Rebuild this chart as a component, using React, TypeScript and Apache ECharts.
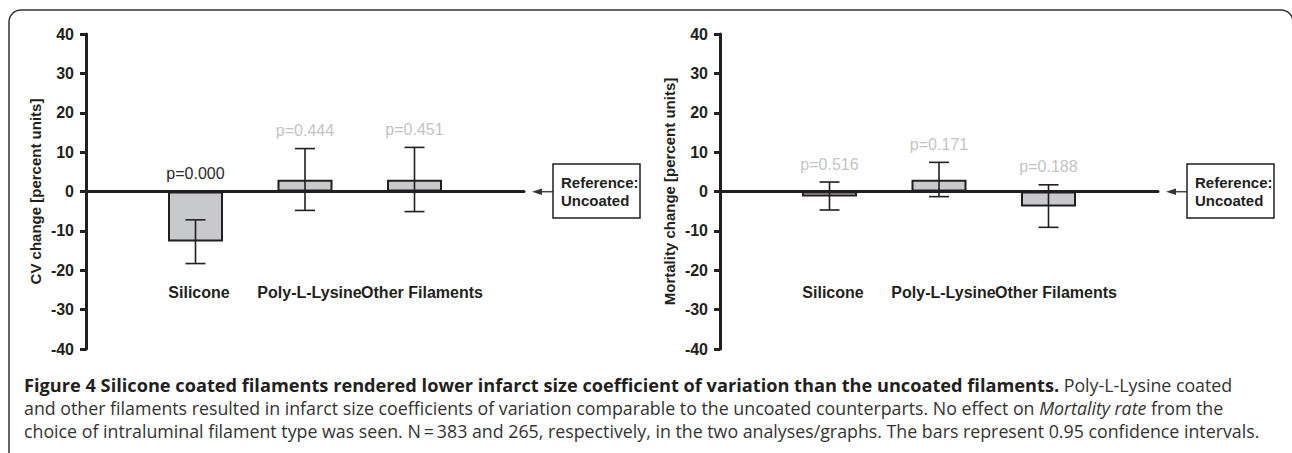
import React, { useEffect, useRef } from "react";
import * as echarts from "echarts";

// ---- data ----
const categories = ["", "Silicone", "Poly-L-Lysine", "Other Filaments", ""];
const yTicks = { min: -40, max: 40, interval: 10 };

const cvMeans = ["-", -12.7, 3.0, 3.0, "-"];
const cvLow = [-18.3, -4.8, -5.1];
const cvHigh = [-7.2, 10.9, 11.2];
const cvP = ["p=0.000", "p=0.444", "p=0.451"];
const cvSignificant = [true, false, false];

const mortMeans = ["-", -1.3, 3.0, -3.8, "-"];
const mortLow = [-4.7, -1.3, -9.1];
const mortHigh = [2.4, 7.4, 1.7];
const mortP = ["p=0.516", "p=0.171", "p=0.188"];
const mortSignificant = [false, false, false];

const yNames = ["CV change [percent units]", "Mortality change [percent units]"];
const referenceText = "Reference:\nUncoated";

const captionLine1Bold =
  "Figure 4 Silicone coated filaments rendered lower infarct size coefficient of variation than the uncoated filaments.";
const captionLine1Rest = " Poly-L-Lysine coated";
const captionLine2a =
  "and other filaments resulted in infarct size coefficients of variation comparable to the uncoated counterparts. No effect on ";
const captionLine2Italic = "Mortality rate";
const captionLine2b = " from the";
const captionLine3 =
  "choice of intraluminal filament type was seen. N\u2009=\u2009383 and 265, respectively, in the two analyses/graphs. The bars represent 0.95 confidence intervals.";

// ---- style ----
const FONT = "'Liberation Sans', Arial, Helvetica, sans-serif";
const CAP_FONT = "'Open Sans', 'Noto Sans', sans-serif";
const DARK = "#231f20";
const GRID_TOP = 34;
const GRID_H = 315;
const GRID_W = 438;
const GRID_LEFTS = [86, 720];
const LABEL_PAD = [0, 7, 9, 15, 0];

function buildPanel(
  idx: number,
  means: any[],
  lows: number[],
  highs: number[],
  ps: string[],
  sig: boolean[]
) {
  const errData = lows.map((lo, i) => [i + 1, lo, highs[i]]);
  const pData = ps.map((p, i) => [i + 1, Math.max(highs[i], 0), p, sig[i] ? 1 : 0]);
  return [
    {
      type: "bar",
      xAxisIndex: idx,
      yAxisIndex: idx,
      data: means,
      barWidth: 55,
      itemStyle: { color: "#c8c9cb", borderColor: DARK, borderWidth: 2 },
      silent: true,
    },
    {
      type: "custom",
      xAxisIndex: idx,
      yAxisIndex: idx,
      data: errData,
      encode: { x: 0, y: [1, 2] },
      z: 5,
      renderItem: (params: any, api: any) => {
        const x = api.value(0);
        const lo = api.coord([x, api.value(1)]);
        const hi = api.coord([x, api.value(2)]);
        const cap = 10;
        const st = { stroke: DARK, lineWidth: 1.6 };
        return {
          type: "group",
          children: [
            { type: "line", shape: { x1: lo[0], y1: lo[1], x2: hi[0], y2: hi[1] }, style: st },
            { type: "line", shape: { x1: lo[0] - cap, y1: lo[1], x2: lo[0] + cap, y2: lo[1] }, style: st },
            { type: "line", shape: { x1: hi[0] - cap, y1: hi[1], x2: hi[0] + cap, y2: hi[1] }, style: st },
          ],
        };
      },
    },
    {
      type: "custom",
      xAxisIndex: idx,
      yAxisIndex: idx,
      data: pData,
      encode: { x: 0, y: 1 },
      z: 6,
      renderItem: (params: any, api: any) => {
        const i = params.dataIndex;
        const pt = api.coord([pData[i][0], pData[i][1]]);
        return {
          type: "text",
          x: pt[0],
          y: pt[1] - 18,
          style: {
            text: pData[i][2],
            fill: pData[i][3] ? "#2a2a2a" : "#c4c4c4",
            font: `16px ${FONT}`,
            align: "center",
            verticalAlign: "middle",
            textAlign: "center",
            textVerticalAlign: "middle",
          },
        };
      },
    },
  ];
}

export default function App() {
  const ref = useRef<HTMLDivElement>(null);
  useEffect(() => {
    if (!ref.current) return;
    const chart = echarts.init(ref.current, undefined, { renderer: "svg" });

    const labelRich: any = {};
    LABEL_PAD.forEach((p, i) => {
      labelRich["c" + i] = {
        fontFamily: FONT,
        fontWeight: "bold",
        fontSize: 16,
        color: DARK,
        padding: [0, 0, 0, p],
      };
    });

    const grids = GRID_LEFTS.map((l) => ({ left: l, top: GRID_TOP, width: GRID_W, height: GRID_H }));
    const xAxes = GRID_LEFTS.map((_, i) => ({
      type: "category",
      gridIndex: i,
      data: categories,
      boundaryGap: false,
      axisLine: { onZero: true, lineStyle: { color: DARK, width: 3 } },
      axisTick: { show: false },
      splitLine: { show: false },
      axisLabel: {
        interval: 0,
        margin: -65,
        color: DARK,
        fontFamily: FONT,
        fontWeight: "bold",
        fontSize: 16,
        formatter: (v: string, idx: number) => (v ? `{c${idx}|${v}}` : ""),
        rich: labelRich,
      },
    }));
    const yAxes = GRID_LEFTS.map((_, i) => ({
      type: "value",
      gridIndex: i,
      min: yTicks.min,
      max: yTicks.max,
      interval: yTicks.interval,
      name: yNames[i],
      nameLocation: "middle",
      nameGap: 43,
      nameTextStyle: { color: DARK, fontFamily: FONT, fontWeight: "bold", fontSize: 15 },
      axisLine: { show: true, onZero: false, lineStyle: { color: DARK, width: 3 } },
      axisTick: { show: true, inside: false, length: 6, lineStyle: { color: DARK, width: 3 } },
      splitLine: { show: false },
      axisLabel: { margin: 12, color: DARK, fontFamily: FONT, fontWeight: "bold", fontSize: 16 },
    }));

    const refBoxes = [
      { boxX: 553, arrowTip: 532 },
      { boxX: 1187, arrowTip: 1166 },
    ];
    const graphics: any[] = [
      {
        type: "rect",
        shape: { x: 9, y: 10, width: 1284, height: 520, r: 12 },
        style: { fill: "none", stroke: "#333", lineWidth: 1.5 },
        silent: true,
      },
    ];
    refBoxes.forEach((b) => {
      const y0 = 191.7;
      graphics.push(
        {
          type: "line",
          shape: { x1: b.arrowTip + 6, y1: y0, x2: b.boxX, y2: y0 },
          style: { stroke: "#444", lineWidth: 1.5 },
        },
        {
          type: "polygon",
          shape: { points: [[b.arrowTip, y0], [b.arrowTip + 10, y0 - 3.2], [b.arrowTip + 10, y0 + 3.2]] },
          style: { fill: "#333" },
        },
        {
          type: "rect",
          shape: { x: b.boxX, y: 164, width: 87, height: 54 },
          style: { fill: "#fff", stroke: DARK, lineWidth: 1.5 },
        },
        {
          type: "text",
          x: b.boxX + 8,
          y: 191,
          style: {
            text: referenceText,
            font: `bold 15px ${FONT}`,
            fill: DARK,
            lineHeight: 18,
            align: "left",
            verticalAlign: "middle",
          },
        }
      );
    });

    const capStyle = { fontFamily: CAP_FONT, fontSize: 17.8, fill: "#333" };
    const capLines = [
      { y: 385, text: `{b|${captionLine1Bold}}${captionLine1Rest}` },
      { y: 408, text: `${captionLine2a}{i|${captionLine2Italic}}${captionLine2b}` },
      { y: 431, text: captionLine3 },
    ];
    capLines.forEach((l) => {
      graphics.push({
        type: "text",
        x: 24,
        y: l.y,
        style: {
          text: l.text,
          ...capStyle,
          align: "left",
          verticalAlign: "middle",
          rich: {
            b: { fontFamily: CAP_FONT, fontSize: 18.2, fontWeight: "bold", fill: DARK },
            i: { fontFamily: CAP_FONT, fontSize: 17.8, fontStyle: "italic", fill: "#333" },
          },
        },
      });
    });

    chart.setOption({
      animation: false,
      grid: grids,
      xAxis: xAxes,
      yAxis: yAxes,
      series: [
        ...buildPanel(0, cvMeans, cvLow, cvHigh, cvP, cvSignificant),
        ...buildPanel(1, mortMeans, mortLow, mortHigh, mortP, mortSignificant),
      ],
      graphic: graphics,
    });
    return () => chart.dispose();
  }, []);

  return (
    <div
      ref={ref}
      style={{ position: "fixed", left: 0, top: 0, width: 1292, height: 453, background: "#fff" }}
    />
  );
}
